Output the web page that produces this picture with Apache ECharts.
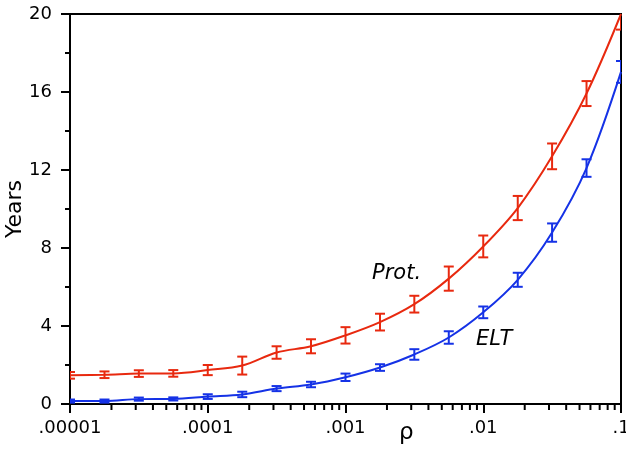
<!DOCTYPE html>
<html>
<head>
<meta charset="utf-8">
<script src="https://cdn.jsdelivr.net/npm/echarts@6/dist/echarts.min.js"></script>
<style>
  html, body { margin: 0; padding: 0; background: #fff; }
  #chart { width: 626px; height: 449px; }
</style>
</head>
<body>
<div id="chart"></div>
<script>
// rho values (0.25 decade steps)
const rho = [0.00001, 0.0000178, 0.0000316, 0.0000562, 0.0001, 0.000178, 0.000316, 0.000562,
  0.001, 0.00178, 0.00316, 0.00562, 0.01, 0.0178, 0.0316, 0.0562, 0.1]

// Prot. series (years) and its error
const prot = [1.47, 1.50, 1.56, 1.57, 1.74, 1.97, 2.64, 2.96, 3.52, 4.20, 5.12, 6.43, 8.08, 10.05, 12.70, 15.92, 20.0]
const protErr = [0.17, 0.17, 0.17, 0.17, 0.26, 0.46, 0.32, 0.36, 0.42, 0.43, 0.43, 0.62, 0.56, 0.62, 0.66, 0.64, 0.8]

// ELT series (years) and its error
const elt = [0.15, 0.15, 0.25, 0.26, 0.38, 0.49, 0.79, 1.00, 1.37, 1.87, 2.54, 3.41, 4.70, 6.37, 8.79, 12.10, 17.03]
const eltErr = [0.08, 0.08, 0.08, 0.08, 0.12, 0.14, 0.13, 0.14, 0.19, 0.17, 0.27, 0.32, 0.30, 0.36, 0.47, 0.45, 0.56]

// tick labels
const xTickLabels = ['.00001', '.0001', '.001', '.01', '.1']
const yTickLabels = ['0', '4', '8', '12', '16', '20']

const RED = '#e8290f'
const BLUE = '#1532e6'
const FONT = 'DejaVu Sans'

// minor log ticks at 2..9 of each decade
const minorTickVals = []
for (let d = -5; d < -1; d++) {
  for (let m = 2; m <= 9; m++) minorTickVals.push(m * Math.pow(10, d))
}

function errorBars (name, color, ys, errs) {
  return {
    name: name + ' err',
    type: 'custom',
    clip: true,
    silent: true,
    z: 3,
    data: rho.map((x, i) => [x, ys[i], errs[i]]),
    encode: { x: 0, y: 1 },
    renderItem (params, api) {
      const x = api.value(0)
      const y = api.value(1)
      const e = api.value(2)
      const hi = api.coord([x, y + e])
      const lo = api.coord([x, y - e])
      const w = 5
      const style = { stroke: color, lineWidth: 2 }
      return {
        type: 'group',
        children: [
          { type: 'line', shape: { x1: hi[0], y1: hi[1], x2: lo[0], y2: lo[1] }, style },
          { type: 'line', shape: { x1: hi[0] - w, y1: hi[1], x2: hi[0] + w, y2: hi[1] }, style },
          { type: 'line', shape: { x1: lo[0] - w, y1: lo[1], x2: lo[0] + w, y2: lo[1] }, style }
        ]
      }
    }
  }
}

function lineSeries (name, color, ys) {
  return {
    name: name,
    type: 'line',
    smooth: 0.35,
    showSymbol: false,
    z: 2,
    lineStyle: { color: color, width: 2 },
    data: rho.map((x, i) => [x, ys[i]])
  }
}

const chart = echarts.init(document.getElementById('chart'), null, { renderer: 'canvas' })

const option = {
  animation: false,
  textStyle: { fontFamily: FONT },
  grid: {
    show: true,
    left: 70,
    right: 5,
    top: 14,
    bottom: 45,
    containLabel: false,
    outerBoundsMode: 'none',
    borderColor: '#000',
    borderWidth: 2,
    backgroundColor: 'transparent'
  },
  xAxis: {
    type: 'log',
    logBase: 10,
    min: 0.00001,
    max: 0.1,
    axisLine: { lineStyle: { color: '#000', width: 2 } },
    axisTick: { length: 9, lineStyle: { color: '#000', width: 2 } },
    splitLine: { show: false },
    axisLabel: {
      margin: 15,
      color: '#000',
      fontSize: 18,
      fontFamily: FONT,
      showMinLabel: true,
      showMaxLabel: true,
      formatter (v) {
        return xTickLabels[Math.round(Math.log10(v)) + 5]
      }
    }
  },
  yAxis: {
    type: 'value',
    min: 0,
    max: 20,
    interval: 4,
    name: 'Years',
    nameLocation: 'middle',
    nameGap: 44,
    nameMoveOverlap: false,
    nameTextStyle: { color: '#000', fontSize: 22, fontFamily: FONT },
    axisLine: { show: true, lineStyle: { color: '#000', width: 2 } },
    axisTick: { show: true, length: 9, lineStyle: { color: '#000', width: 2 } },
    minorTick: { show: true, splitNumber: 2, length: 5, lineStyle: { color: '#000', width: 2 } },
    splitLine: { show: false },
    axisLabel: {
      margin: 18,
      color: '#000',
      fontSize: 18,
      fontFamily: FONT,
      formatter (v) {
        return yTickLabels[Math.round(v / 4)]
      }
    }
  },
  graphic: [
    { type: 'text', left: 372, top: 263, style: { text: 'Prot.', font: 'italic 21px "DejaVu Sans"', fill: '#000' } },
    { type: 'text', left: 476, top: 329, style: { text: 'ELT', font: 'italic 21px "DejaVu Sans"', fill: '#000' } },
    { type: 'text', left: 399, top: 422, style: { text: 'ρ', font: '23px "DejaVu Sans"', fill: '#000' } }
  ],
  series: [
    lineSeries('Prot.', RED, prot),
    errorBars('Prot.', RED, prot, protErr),
    lineSeries('ELT', BLUE, elt),
    errorBars('ELT', BLUE, elt, eltErr),
    {
      name: 'minor ticks',
      type: 'custom',
      clip: false,
      silent: true,
      z: 5,
      data: minorTickVals.map(v => [v, 0]),
      encode: { x: 0, y: 1 },
      renderItem (params, api) {
        const p = api.coord([api.value(0), 0])
        return {
          type: 'line',
          shape: { x1: p[0], y1: p[1], x2: p[0], y2: p[1] + 6 },
          style: { stroke: '#000', lineWidth: 2 }
        }
      }
    }
  ]
}

chart.setOption(option)
</script>
</body>
</html>
